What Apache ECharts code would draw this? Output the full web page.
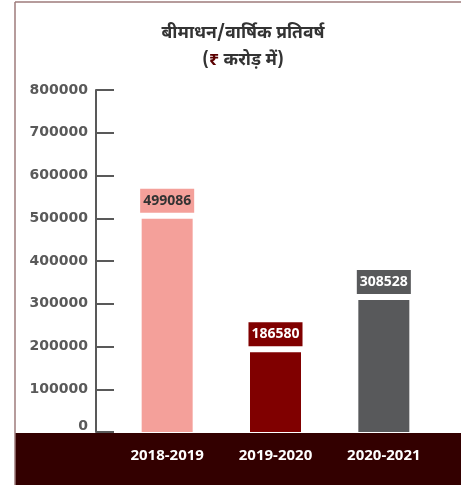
<!DOCTYPE html>
<html><head><meta charset="utf-8">
<script src="https://cdn.jsdelivr.net/npm/echarts@6/dist/echarts.min.js"></script>
<style>html,body{margin:0;padding:0;background:#fff}#c{width:461px;height:485px}</style>
</head><body><div id="c"></div>
<script>
const categories = ['2018-2019', '2019-2020', '2020-2021'];
const values = [499086, 186580, 308528];
const barColors = ['#f4a09a', '#800000', '#58595b'];
const labelColors = ['#333333', '#ffffff', '#ffffff'];
const titleLine1 = 'बीमाधन/वार्षिक प्रतिवर्ष';
const titleLine2a = '(';
const titleRupee = '₹';
const titleLine2b = ' करोड़ में)';

const hindiFont = '"Noto Sans Devanagari","Noto Sans","Lohit Devanagari","FreeSans",sans-serif';
const chart = echarts.init(document.getElementById('c'), null, {renderer: 'canvas'});
chart.setOption({
  animation: false,
  backgroundColor: '#ffffff',
  title: {
    left: 238, top: 16, textAlign: 'center',
    text: '{a|' + titleLine1 + '}\n{a|' + titleLine2a + '}{r|' + titleRupee + '}{a|' + titleLine2b + '}',
    textStyle: {
      rich: {
        a: {fontFamily: hindiFont, fontSize: 17.5, fontWeight: 'bold', color: '#333333', lineHeight: 27},
        r: {fontFamily: hindiFont, fontSize: 17.5, fontWeight: 'bold', color: '#5a0000', lineHeight: 27}
      }
    }
  },
  graphic: [
    {type: 'rect', z: -10, silent: true, shape: {x: 15, y: 433, width: 446, height: 52}, style: {fill: '#330000'}},
    {type: 'line', z: -10, shape: {x1: 15, y1: 2, x2: 461, y2: 2}, style: {stroke: '#9e7b7b', lineWidth: 1.5}},
    {type: 'line', z: -10, shape: {x1: 15, y1: 2, x2: 15, y2: 485}, style: {stroke: '#9e7b7b', lineWidth: 1.5}}
  ],
  grid: {left: 113, right: 23, top: 90, bottom: 53},
  xAxis: {
    type: 'category', data: categories,
    axisLine: {show: false}, axisTick: {show: false},
    axisLabel: {color: '#ffffff', fontFamily: '"Open Sans",sans-serif', fontWeight: 'bold', fontSize: 15, margin: 16}
  },
  yAxis: {
    type: 'value', min: 0, max: 800000, interval: 100000, offset: 17,
    splitLine: {show: false},
    axisLine: {show: true, lineStyle: {color: '#595959', width: 2}},
    axisTick: {show: true, inside: true, length: 18, lineStyle: {color: '#595959', width: 2}},
    axisLabel: {
      color: '#595959', fontFamily: '"DejaVu Sans",sans-serif', fontWeight: 'bold', fontSize: 14, margin: 8,
      formatter: v => v === 0 ? '{z|0}' : String(v),
      rich: {z: {color: '#595959', fontFamily: '"DejaVu Sans",sans-serif', fontWeight: 'bold', fontSize: 14, padding: [0, 0, 12, 0]}}
    }
  },
  series: [{
    type: 'bar', barWidth: 51, z: 2,
    data: values.map((v, i) => ({
      value: v,
      itemStyle: {color: barColors[i]},
      label: {
        show: true, position: 'top', distance: 6,
        color: labelColors[i], backgroundColor: barColors[i],
        fontFamily: '"Open Sans",sans-serif', fontWeight: 'bold', fontSize: 14,
        lineHeight: 14, padding: [5, 3]
      }
    }))
  }]
});
</script></body></html>
